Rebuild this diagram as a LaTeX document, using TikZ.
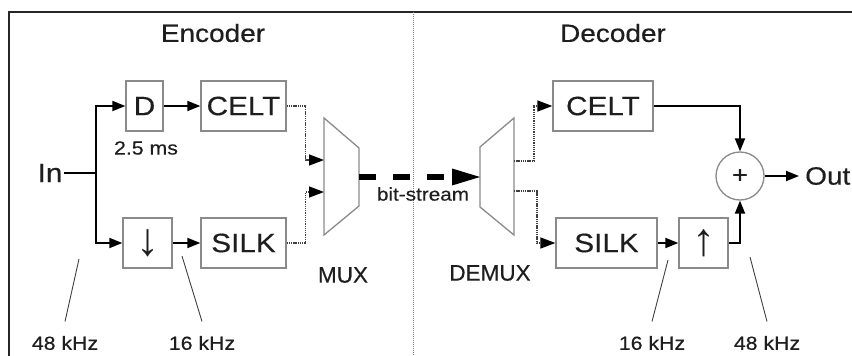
\documentclass[tikz,border=0pt]{standalone}
\usepackage{fontspec}
\setmainfont{Liberation Sans}[FakeStretch=1.12,FakeBold=0.4]
\newfontfamily\muxfont{Liberation Sans}[FakeBold=0.4]
\newfontfamily\arrowfont{Liberation Sans}
\usetikzlibrary{arrows.meta}
\definecolor{boxgray}{HTML}{8A8A8A}
\definecolor{txt}{HTML}{1E1E1E}
\definecolor{upred}{HTML}{8B3A2A}
\definecolor{dnbrown}{HTML}{6E5A50}
\newcommand{\fs}[1]{\fontsize{#1}{#1}\selectfont}
\begin{document}
\begin{tikzpicture}[x=1pt,y=-1pt,
  every node/.style={text=txt},
  blk/.style={draw=boxgray, line width=1.3pt, minimum height=50pt, inner sep=0pt, font=\fs{26.5}},
  arr/.style={line width=1.8pt, black, -{Triangle[length=13pt,width=10pt]}},
  wire/.style={line width=1.8pt, black},
  dotc/.style={line width=1.4pt, draw=black!75, dash pattern=on 1.3pt off 0.9pt},
  dotarr/.style={dotc, -{Triangle[length=15pt,width=11pt,color=black]}},
  lbl/.style={font=\fs{19}, inner sep=0pt, outer ysep=14.5pt},
  ptr/.style={line width=0.9pt, black!75},
  trap/.style={draw=boxgray, line width=1.3pt, line join=miter},
]
\useasboundingbox (0,0) rectangle (852,356);
% frame and divider
\draw[line width=1.8pt, black!85] (9,362) -- (9,12) -- (860,12);
\draw[gray, line width=0.8pt, dash pattern=on 1pt off 1pt] (413,12) -- (413,362);
\node[font=\fs{25}] (enc) at (213,33) {Encoder};
\node[font=\fs{25}] (dec) at (613,33) {Decoder};

% encoder
\node[font=\fs{26.5}, inner sep=0.15em] (in) at (50,173) {In};
\coordinate (br) at (96,173);
\node[blk, minimum width=37pt] (D) at (144.5,106) {D};
\node[blk, minimum width=85pt] (celt1) at (243.5,106) {CELT};
\node[blk, minimum width=49pt, font=\arrowfont\fs{46}\color{dnbrown}] (dn) at (147.5,243) {↓};
\node[blk, minimum width=85pt] (silk1) at (243.5,243) {SILK};
\node[font=\fs{19}] (delay) at (146,148) {2.5 ms};
\draw[wire] (in.east) -- (br);
\draw[arr] (br) |- (D.west);
\draw[arr] (br) |- (dn.west);
\draw[arr] (D) -- (celt1);
\draw[arr] (dn) -- (silk1);

% MUX
\draw[trap] (324,118) -- (359,148) -- (359,206) -- (324,235) -- cycle;
\coordinate (mi1) at (324,160);
\coordinate (mi2) at (324,192);
\coordinate (mo) at (359,177);
\node[font=\muxfont\fs{22.5}] (muxl) at (343,275) {MUX};
\draw[dotarr] (celt1.east) -- ++(19,0) |- (mi1);
\draw[dotarr] (silk1.east) -- ++(19,0) |- (mi2);

% DEMUX
\draw[trap] (480,147) -- (514,118) -- (514,235) -- (480,207) -- cycle;
\coordinate (di) at (480,177);
\coordinate (do1) at (514,161);
\coordinate (do2) at (514,191);
\node[font=\muxfont\fs{22.5}] (demuxl) at (490,273) {DEMUX};

% bit-stream
\draw[line width=6pt, black, dash pattern=on 17pt off 17pt,
  -{Triangle[length=28pt,width=17pt,line width=0pt]}] (mo) -- (di);
\node[font=\fs{18.5}] (bs) at (423,194) {bit-stream};

% decoder
\node[blk, minimum width=100pt] (celt2) at (603,106) {CELT};
\node[blk, minimum width=101pt] (silk2) at (606.5,243) {SILK};
\node[blk, minimum width=49pt, font=\arrowfont\fs{46}\color{upred}] (up) at (703.5,243) {↑};
\node[circle, draw=boxgray, line width=1.3pt, minimum size=48pt, inner sep=0pt, font=\fs{24}] (sum) at (740,176) {+};
\node[font=\fs{25}, anchor=west, inner sep=0pt] (out) at (805,176) {Out};
\draw[dotarr] (do1) -- ++(20,0) |- (celt2.west);
\draw[dotarr] (do2) -- ++(23,0) |- (silk2.west);
\draw[arr] (silk2) -- (up);
\draw[arr] (celt2.east) -| (sum.north);
\draw[arr] (up.east) -| (sum.south);
\draw[arr, shorten >=6pt] (sum.east) -- (out.west);

% rate labels
\node[lbl] (r1) at (65,343) {48 kHz};
\node[lbl] (r2) at (202,343) {16 kHz};
\node[lbl] (r3) at (652,343) {16 kHz};
\node[lbl] (r4) at (767,343) {48 kHz};
\coordinate (p1) at (79,259);
\coordinate (p2) at (182,256);
\coordinate (p3) at (668,260);
\coordinate (p4) at (750,257);
\draw[ptr] (r1.north) -- (p1);
\draw[ptr] (r2.north) -- (p2);
\draw[ptr] (r3.north) -- (p3);
\draw[ptr] (r4.north) -- (p4);
\end{tikzpicture}
\end{document}
